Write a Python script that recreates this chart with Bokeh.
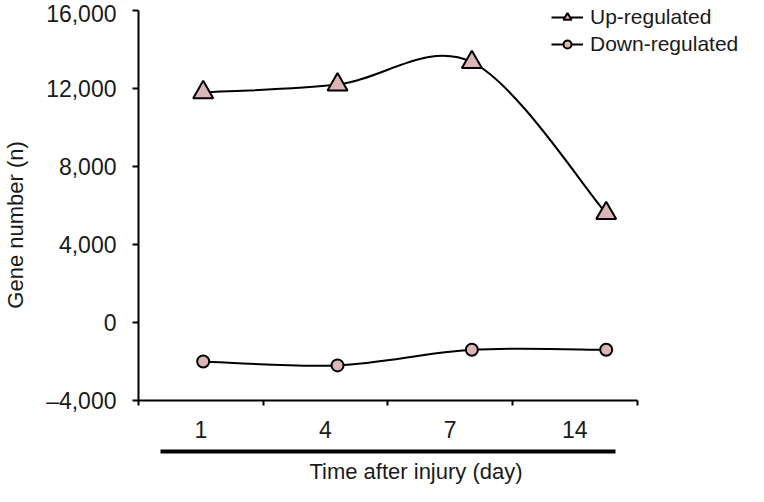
from bokeh.plotting import figure
from bokeh.models import (Range1d, LinearAxis, FixedTicker, Legend, LegendItem,
                          ColumnDataSource)
from bokeh.embed import file_html
from bokeh.resources import INLINE

# ---- data ----
days = ["1", "4", "7", "14"]
up_regulated = [11800, 12200, 13350, 5600]
down_regulated = [-2000, -2200, -1400, -1400]
y_ticks = [-4000, 0, 4000, 8000, 12000, 16000]
y_tick_labels = ["\u20134,000", "0", "4,000", "8,000", "12,000", "16,000"]

FONT = "Liberation Sans"
TEXT = "#1a1a1a"
FILL = "#dcb6b6"
NBSP = "\u00a0"

xs = list(range(len(days)))


def smooth_segments(x, y, k=1 / 6):
    """Bezier control points for a smoothed line through the data points."""
    n = len(x)
    seg = dict(x0=[], y0=[], x1=[], y1=[], cx0=[], cy0=[], cx1=[], cy1=[])
    for i in range(n - 1):
        p = max(i - 1, 0)
        q = min(i + 2, n - 1)
        seg["x0"].append(x[i]); seg["y0"].append(y[i])
        seg["x1"].append(x[i + 1]); seg["y1"].append(y[i + 1])
        seg["cx0"].append(x[i] + (x[i + 1] - x[p]) * k)
        seg["cy0"].append(y[i] + (y[i + 1] - y[p]) * k)
        seg["cx1"].append(x[i + 1] - (x[q] - x[i]) * k)
        seg["cy1"].append(y[i + 1] - (y[q] - y[i]) * k)
    return ColumnDataSource(seg)


# frame spans 135..748 px horizontally, 0..~400 px vertically; the axes are
# bounded so the plotted area looks like the reference while the legend fits
p = figure(width=748, height=486, output_backend="svg", toolbar_location=None,
           x_range=Range1d(-0.4815, 4.0593), y_range=Range1d(-4000, 16513),
           x_axis_type=None,
           min_border_left=135, min_border_right=0, min_border_top=0,
           min_border_bottom=0)
p.extra_x_ranges = {"cats": Range1d(0, 4.894)}
p.grid.visible = False
p.outline_line_color = None
p.background_fill_color = "white"

# y axis
ya = p.yaxis[0]
ya.ticker = FixedTicker(ticks=y_ticks)
ya.bounds = (y_ticks[0], y_ticks[-1])
ya.major_label_overrides = dict(zip(y_ticks, y_tick_labels))
ya.axis_line_width = 2
ya.axis_line_color = "black"
ya.major_tick_line_width = 2
ya.major_tick_line_color = "black"
ya.major_tick_out = 6
ya.major_tick_in = 0
ya.minor_tick_line_color = None
ya.major_label_standoff = 16
ya.major_label_text_font = FONT
ya.major_label_text_font_size = "23px"
ya.major_label_text_color = TEXT
ya.axis_label = "Gene number (n)" + NBSP * 8
ya.axis_label_text_font = FONT
ya.axis_label_text_font_size = "22px"
ya.axis_label_text_font_style = "normal"
ya.axis_label_text_color = TEXT
ya.axis_label_standoff = 15

# x axis: ticks at category edges, labels at category centres
cat_centers = [i + 0.5 for i in range(len(days))]
cat_edges = list(range(len(days) + 1))
xa = LinearAxis(x_range_name="cats",
                ticker=FixedTicker(ticks=cat_centers, minor_ticks=cat_edges),
                major_label_overrides=dict(zip(cat_centers, days)),
                bounds=(0, len(days)))
xa.axis_line_width = 2
xa.axis_line_color = "black"
xa.major_tick_line_color = None
xa.major_tick_out = 0
xa.major_tick_in = 0
xa.minor_tick_out = 5
xa.minor_tick_in = 0
xa.minor_tick_line_width = 2
xa.minor_tick_line_color = "black"
xa.major_label_standoff = 15
xa.major_label_text_font = FONT
xa.major_label_text_font_size = "23px"
xa.major_label_text_color = TEXT
xa.axis_label = " "
xa.axis_label_text_font_size = "2px"
xa.axis_label_standoff = 6
p.add_layout(xa, "below")

# thick rule under the tick labels, carrying the axis title
xb = LinearAxis(x_range_name="cats", ticker=FixedTicker(ticks=[]),
                bounds=(0.1756, 3.824))
xb.axis_line_width = 4
xb.axis_line_color = "black"
xb.major_tick_line_color = None
xb.minor_tick_line_color = None
xb.major_tick_out = 0
xb.major_tick_in = 0
xb.major_label_standoff = 0
xb.axis_label = "Time after injury (day)" + NBSP * 9
xb.axis_label_text_font = FONT
xb.axis_label_text_font_size = "22px"
xb.axis_label_text_font_style = "normal"
xb.axis_label_text_color = TEXT
xb.axis_label_standoff = 7
p.add_layout(xb, "below")

# series
up_curve = p.bezier(x0="x0", y0="y0", x1="x1", y1="y1", cx0="cx0", cy0="cy0",
                    cx1="cx1", cy1="cy1", source=smooth_segments(xs, up_regulated),
                    line_color="black", line_width=2)
down_curve = p.bezier(x0="x0", y0="y0", x1="x1", y1="y1", cx0="cx0", cy0="cy0",
                      cx1="cx1", cy1="cy1", source=smooth_segments(xs, down_regulated),
                      line_color="black", line_width=2)
up_pts = p.scatter(xs, up_regulated, marker="triangle", size=20,
                   fill_color=FILL, line_color="black", line_width=2)
down_pts = p.scatter(xs, down_regulated, marker="circle", size=12,
                     fill_color=FILL, line_color="black", line_width=2)

legend = Legend(items=[LegendItem(label="Up-regulated", renderers=[up_curve, up_pts]),
                       LegendItem(label="Down-regulated", renderers=[down_curve, down_pts])],
                location=(413, 344))
legend.border_line_color = None
legend.background_fill_alpha = 0
legend.padding = 0
legend.margin = 0
legend.spacing = 3
legend.glyph_width = 32
legend.glyph_height = 20
legend.label_standoff = 7
legend.label_text_font = FONT
legend.label_text_font_size = "21px"
legend.label_text_color = TEXT
p.add_layout(legend)

open("out.html", "w").write(file_html(p, INLINE))
